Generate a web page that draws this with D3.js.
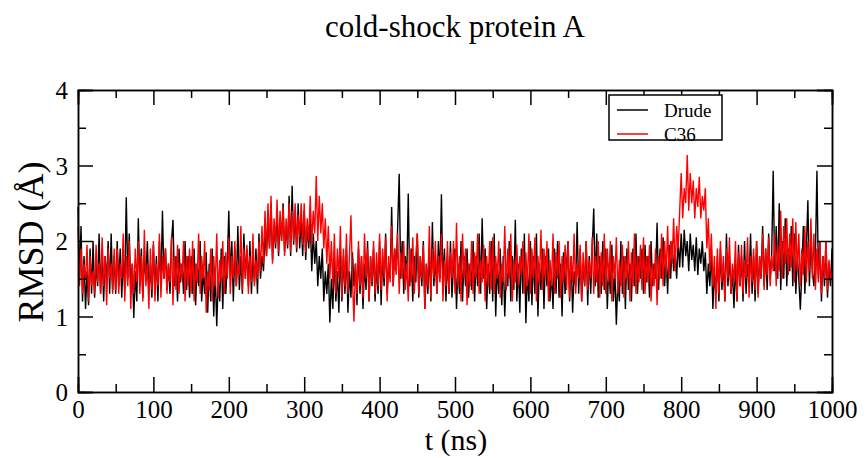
<!DOCTYPE html>
<html>
<head>
<meta charset="utf-8">
<script src="https://cdn.jsdelivr.net/npm/d3@7"></script>
<style>
  body { margin: 0; background: #fff; }
  text { font-family: "Liberation Serif", "Times New Roman", serif; }
</style>
</head>
<body>
<div id="chart"></div>
<script>
// const
const width = 867
const height = 458
const margin = { top: 90, bottom: 66, left: 78, right: 35 }

// data, one value every 2 ns
const tStep = 2
const drude = [
  2.45,1.5,2.2,1.2,1.8,1.1,1.6,1.15,1.9,1.3,2.0,1.25,1.7,1.4,2.1,1.3,1.9,1.2,1.8,1.45,2.0,1.3,2.1,1.35,1.8,
  1.3,2.0,1.4,1.9,1.25,1.8,1.35,2.58,1.5,2.1,1.3,1.7,0.98,1.6,1.2,2.3,1.4,1.9,1.25,1.8,1.5,2.0,1.3,1.7,1.25,
  1.95,1.3,1.8,1.2,2.0,1.4,2.4,1.5,1.9,1.35,1.7,1.3,2.0,2.28,1.4,1.8,1.2,1.9,1.45,1.7,1.3,2.0,1.35,1.8,1.25,
  1.8,1.3,1.9,1.15,1.7,1.4,2.0,1.2,1.6,1.3,1.85,1.05,1.7,1.2,1.9,1.0,1.6,0.87,1.5,1.2,1.9,1.1,1.8,1.3,1.7,
  2.4,1.5,2.0,1.2,1.9,1.4,2.2,1.35,1.8,1.3,2.1,1.5,1.9,1.4,2.0,1.3,1.8,1.45,1.9,1.3,2.1,1.5,1.8,1.6,2.1,
  1.8,2.3,1.9,2.5,1.75,2.2,1.9,2.4,1.8,2.3,2.0,2.5,1.85,2.2,1.9,2.6,1.8,2.73,1.95,2.4,1.85,2.5,1.9,2.3,1.8,
  2.4,1.75,2.2,1.9,2.3,1.6,2.1,1.7,2.0,1.4,1.8,1.5,1.9,1.2,1.6,1.3,1.7,0.92,1.5,1.1,1.8,1.2,1.6,1.05,1.9,
  1.2,1.8,1.3,1.9,1.05,1.6,1.25,1.85,1.4,1.7,1.15,1.9,1.3,1.8,1.1,1.7,1.35,2.0,1.2,1.8,1.4,1.9,1.2,1.7,1.3,
  2.0,1.15,1.8,1.4,2.1,1.3,1.7,1.5,2.45,1.4,1.9,1.6,2.2,2.89,1.5,2.0,1.3,1.8,1.5,2.63,1.4,1.9,1.2,1.8,1.45,
  2.1,1.25,1.8,1.4,2.0,1.1,1.7,1.3,1.9,1.2,2.25,1.4,1.8,1.3,2.0,1.5,2.62,1.4,1.9,1.2,1.8,1.3,2.0,1.25,1.7,
  1.9,1.1,1.7,1.3,2.0,1.2,1.8,1.4,1.9,1.25,1.7,1.35,2.0,1.2,1.8,1.4,2.1,1.3,2.3,1.5,1.9,1.1,1.7,1.3,2.0,
  1.2,2.1,1.0,1.7,1.3,1.9,1.15,1.8,1.0,1.6,1.4,2.0,1.2,1.8,1.35,2.28,1.2,1.7,1.05,1.9,1.3,2.1,0.91,1.6,1.2,
  2.0,1.15,1.8,1.3,2.1,1.0,1.7,1.35,1.9,1.1,1.8,1.4,1.9,1.2,1.6,1.1,1.9,1.3,2.0,1.25,1.7,1.0,1.85,1.3,1.7,
  2.0,1.2,1.8,1.05,1.6,1.4,2.25,1.3,1.9,1.2,1.7,1.4,2.0,1.15,1.8,1.3,1.9,2.43,1.4,2.1,1.25,1.8,1.3,2.0,1.35,
  1.9,1.1,1.7,1.3,1.95,1.2,1.6,0.89,1.5,1.2,2.0,1.3,1.8,1.1,1.9,1.35,1.7,1.2,1.9,1.4,2.1,1.3,1.8,1.5,1.9,
  1.3,1.95,1.45,1.8,1.25,2.0,1.4,1.7,1.5,2.24,1.35,1.9,1.5,2.05,1.4,1.8,1.3,1.95,1.5,2.0,1.6,1.85,1.5,2.0,1.65,
  2.1,1.65,2.15,1.8,2.0,1.6,2.1,1.75,1.95,1.6,2.05,1.55,1.9,1.7,2.0,1.6,1.85,1.3,1.7,1.4,1.9,1.1,1.6,1.3,1.8,
  1.2,1.9,1.35,1.7,1.2,2.1,1.4,1.8,1.3,1.6,1.11,1.7,1.2,1.95,1.4,1.8,1.2,2.0,1.3,1.7,1.45,2.1,1.3,1.8,1.2,
  2.0,1.3,1.8,1.5,2.2,1.4,1.9,1.35,2.1,1.5,1.8,2.93,1.6,2.2,1.5,2.5,1.35,2.0,1.5,2.3,1.4,1.9,1.6,2.2,1.4,
  2.1,1.3,1.8,1.5,1.09,1.6,2.2,1.3,1.9,2.54,1.4,2.0,1.6,1.4,1.8,2.93,1.5,2.0,1.2,1.8,1.4,2.0,1.25,1.7,1.4,
  1.9
]
const c36 = [
  2.2,1.4,1.9,1.3,1.7,1.5,1.95,1.2,1.8,1.4,1.6,1.3,1.95,1.45,1.7,1.3,2.05,1.4,1.8,1.15,1.9,1.5,1.7,1.3,1.9,
  1.35,1.9,1.3,1.7,1.5,2.1,1.2,1.8,1.4,2.0,1.1,1.7,1.3,1.9,1.45,2.0,1.3,1.8,1.2,2.15,1.4,1.7,1.1,1.9,1.35,
  2.0,1.2,1.7,1.4,2.1,1.25,1.8,1.5,1.9,1.3,1.7,1.45,2.05,1.15,1.8,1.35,1.95,1.3,1.7,1.5,2.0,1.2,1.8,1.4,1.9,
  1.3,2.0,1.2,1.7,1.45,2.1,1.3,1.8,1.5,2.0,1.05,1.6,1.35,1.9,1.2,1.8,1.4,2.1,1.25,1.75,1.45,2.0,1.3,1.85,1.5,
  2.05,1.3,1.8,1.5,2.0,1.4,1.7,1.55,2.2,1.35,1.9,1.5,1.95,1.3,1.8,1.45,2.1,1.4,1.75,1.5,2.0,1.6,2.2,1.7,2.4,
  1.8,2.5,1.9,2.6,1.7,2.3,1.95,2.55,1.85,2.4,2.0,2.45,1.8,2.3,1.95,2.5,1.85,2.4,2.0,2.5,1.9,2.35,2.05,2.5,1.95,
  2.5,1.85,2.3,2.0,2.6,1.95,2.4,2.1,2.86,2.0,2.6,2.1,2.5,1.9,2.3,1.7,2.2,1.5,2.0,1.4,2.1,1.3,1.9,1.5,2.2,
  1.25,1.9,1.4,2.1,1.3,1.8,2.34,1.5,0.93,1.7,1.3,2.0,1.4,1.8,1.25,2.1,1.5,1.9,1.2,1.8,1.45,2.0,1.3,1.85,1.4,
  2.1,1.35,1.9,1.5,2.05,1.2,1.8,1.45,2.2,1.4,1.9,1.55,2.1,1.3,1.85,1.5,2.0,1.35,1.7,1.2,1.9,1.45,2.05,1.3,1.8,
  2.1,1.3,1.8,1.5,1.95,1.1,1.7,1.4,2.2,1.25,1.9,1.5,2.0,1.3,1.8,1.45,2.1,1.2,1.75,1.4,2.0,1.3,1.85,1.5,2.0,
  1.3,2.24,1.4,1.8,1.2,2.1,1.5,1.9,1.15,1.7,1.4,2.0,1.3,1.85,1.5,2.1,1.3,1.75,1.45,1.95,1.2,1.8,1.4,2.0,1.35,
  2.05,1.3,1.8,1.5,2.0,1.25,1.7,1.45,2.2,1.35,1.9,1.5,2.1,1.2,1.75,1.45,1.95,1.4,1.8,1.55,2.0,1.3,1.85,1.4,2.1,
  1.3,1.9,1.5,2.05,1.2,1.8,1.45,2.15,1.35,1.9,1.5,2.0,1.2,1.75,1.4,2.1,1.3,1.85,1.5,2.0,1.25,1.8,1.45,1.95,1.35,
  2.0,1.25,1.8,1.45,2.1,1.3,1.7,1.5,1.95,1.2,1.85,1.4,2.0,1.35,1.75,1.5,2.05,1.3,1.8,1.45,2.0,1.25,1.85,1.4,2.1,
  1.3,1.9,1.45,2.0,1.2,1.8,1.5,2.05,1.3,1.75,1.4,1.95,1.25,1.8,1.5,2.0,1.2,1.85,1.4,2.1,1.3,1.8,1.45,1.95,1.35,
  2.05,1.3,1.8,1.45,1.95,1.2,1.7,1.4,1.9,1.15,1.8,1.5,2.1,1.4,2.0,1.55,2.2,1.5,2.0,1.7,2.3,1.6,2.2,1.9,2.4,
  2.9,2.3,2.7,2.5,3.14,2.4,2.9,2.5,2.8,2.3,2.7,2.45,2.85,2.3,2.6,2.4,2.7,1.9,2.3,1.6,2.1,1.4,1.8,1.1,1.9,
  1.3,2.0,1.45,1.8,1.2,1.9,1.5,2.05,1.3,1.7,1.45,2.0,1.2,1.85,1.4,1.95,1.3,1.75,1.5,2.05,1.25,1.8,1.45,1.9,1.35,
  2.0,1.25,1.8,1.5,2.1,1.35,1.9,1.55,2.05,1.4,1.8,1.6,2.1,1.4,1.95,1.6,2.4,1.5,2.2,1.7,2.3,1.55,2.1,1.65,2.3,
  1.45,2.25,1.6,2.1,1.4,1.9,1.55,2.2,1.45,2.0,1.6,2.3,1.5,2.1,1.35,1.9,1.45,2.0,1.3,1.8,1.5,2.0,1.35,1.75,1.5,
  1.6
]
const xTicks = [0, 100, 200, 300, 400, 500, 600, 700, 800, 900, 1000]
const yTicks = [0, 1, 2, 3, 4]
const seriesNames = ["Drude", "C36"]
const seriesColors = ["#000000", "#ff0000"]

// svg
const svg = d3.select("#chart")
    .append("svg")
    .attr("width", width)
    .attr("height", height)

const x = d3.scaleLinear()
    .domain([0, 1000])
    .range([margin.left, width - margin.right])
const y = d3.scaleLinear()
    .domain([0, 4])
    .range([height - margin.bottom, margin.top])

// lines (red on top)
const line = d3.line()
    .x((d, i) => x(i * tStep))
    .y(d => y(d))

;[drude, c36].forEach((s, k) => {
  svg.append("path")
      .datum(s)
      .attr("fill", "none")
      .attr("stroke", seriesColors[k])
      .attr("stroke-width", 1.4)
      .attr("d", line)
})

// axes, ticks inward on all four sides
const xMinor = d3.range(50, 1000, 100)
const yMinor = [0.5, 1.5, 2.5, 3.5]
const ax = svg.append("g").attr("id", "axisGroup")

const xAxisBottom = ax.append("g")
    .attr("transform", `translate(0,${height - margin.bottom})`)
    .call(d3.axisBottom(x).tickValues(xTicks).tickSize(-15).tickPadding(14).tickFormat(d3.format("d")))
ax.append("g")
    .attr("transform", `translate(0,${margin.top})`)
    .call(d3.axisTop(x).tickValues(xTicks).tickSize(-15).tickFormat(""))
const yAxisLeft = ax.append("g")
    .attr("transform", `translate(${margin.left},0)`)
    .call(d3.axisLeft(y).tickValues(yTicks).tickSize(-15).tickPadding(10).tickFormat(d3.format("d")))
ax.append("g")
    .attr("transform", `translate(${width - margin.right},0)`)
    .call(d3.axisRight(y).tickValues(yTicks).tickSize(-15).tickFormat(""))

ax.append("g").attr("transform", `translate(0,${height - margin.bottom})`)
    .call(d3.axisBottom(x).tickValues(xMinor).tickSize(-8).tickFormat(""))
ax.append("g").attr("transform", `translate(0,${margin.top})`)
    .call(d3.axisTop(x).tickValues(xMinor).tickSize(-8).tickFormat(""))
ax.append("g").attr("transform", `translate(${margin.left},0)`)
    .call(d3.axisLeft(y).tickValues(yMinor).tickSize(-8).tickFormat(""))
ax.append("g").attr("transform", `translate(${width - margin.right},0)`)
    .call(d3.axisRight(y).tickValues(yMinor).tickSize(-8).tickFormat(""))

ax.selectAll(".domain").attr("stroke", "#000").attr("stroke-width", 1.5)
ax.selectAll(".tick line").attr("stroke", "#000").attr("stroke-width", 1.5)
ax.selectAll(".tick text")
    .attr("font-family", "Liberation Serif, serif")
    .attr("font-size", 25)
    .attr("fill", "#000")
xAxisBottom.selectAll(".tick text").attr("dy", "0.47em")
yAxisLeft.selectAll(".tick text").attr("dy", "0.35em")

// title and axis labels
svg.append("text")
    .attr("x", 455).attr("y", 37)
    .attr("text-anchor", "middle")
    .attr("font-size", 31)
    .text("cold-shock protein A")

svg.append("text")
    .attr("x", 456).attr("y", 450)
    .attr("text-anchor", "middle")
    .attr("font-size", 30)
    .text("t (ns)")

svg.append("text")
    .attr("transform", `translate(43,242) rotate(-90)`)
    .attr("text-anchor", "middle")
    .attr("font-size", 36)
    .text("RMSD (Å)")

// legend
const lg = svg.append("g").attr("transform", "translate(609,95)")
lg.append("rect")
    .attr("width", 113).attr("height", 45)
    .attr("fill", "#fff").attr("stroke", "#000").attr("stroke-width", 1.5)
seriesNames.forEach((n, i) => {
  lg.append("line")
      .attr("x1", 8).attr("x2", 39)
      .attr("y1", 15 + i * 24).attr("y2", 15 + i * 24)
      .attr("stroke", seriesColors[i]).attr("stroke-width", 1.5)
  lg.append("text")
      .attr("x", 55).attr("y", 15 + i * 24)
      .attr("dy", "0.35em")
      .attr("font-size", 19)
      .text(n)
})
</script>
</body>
</html>
